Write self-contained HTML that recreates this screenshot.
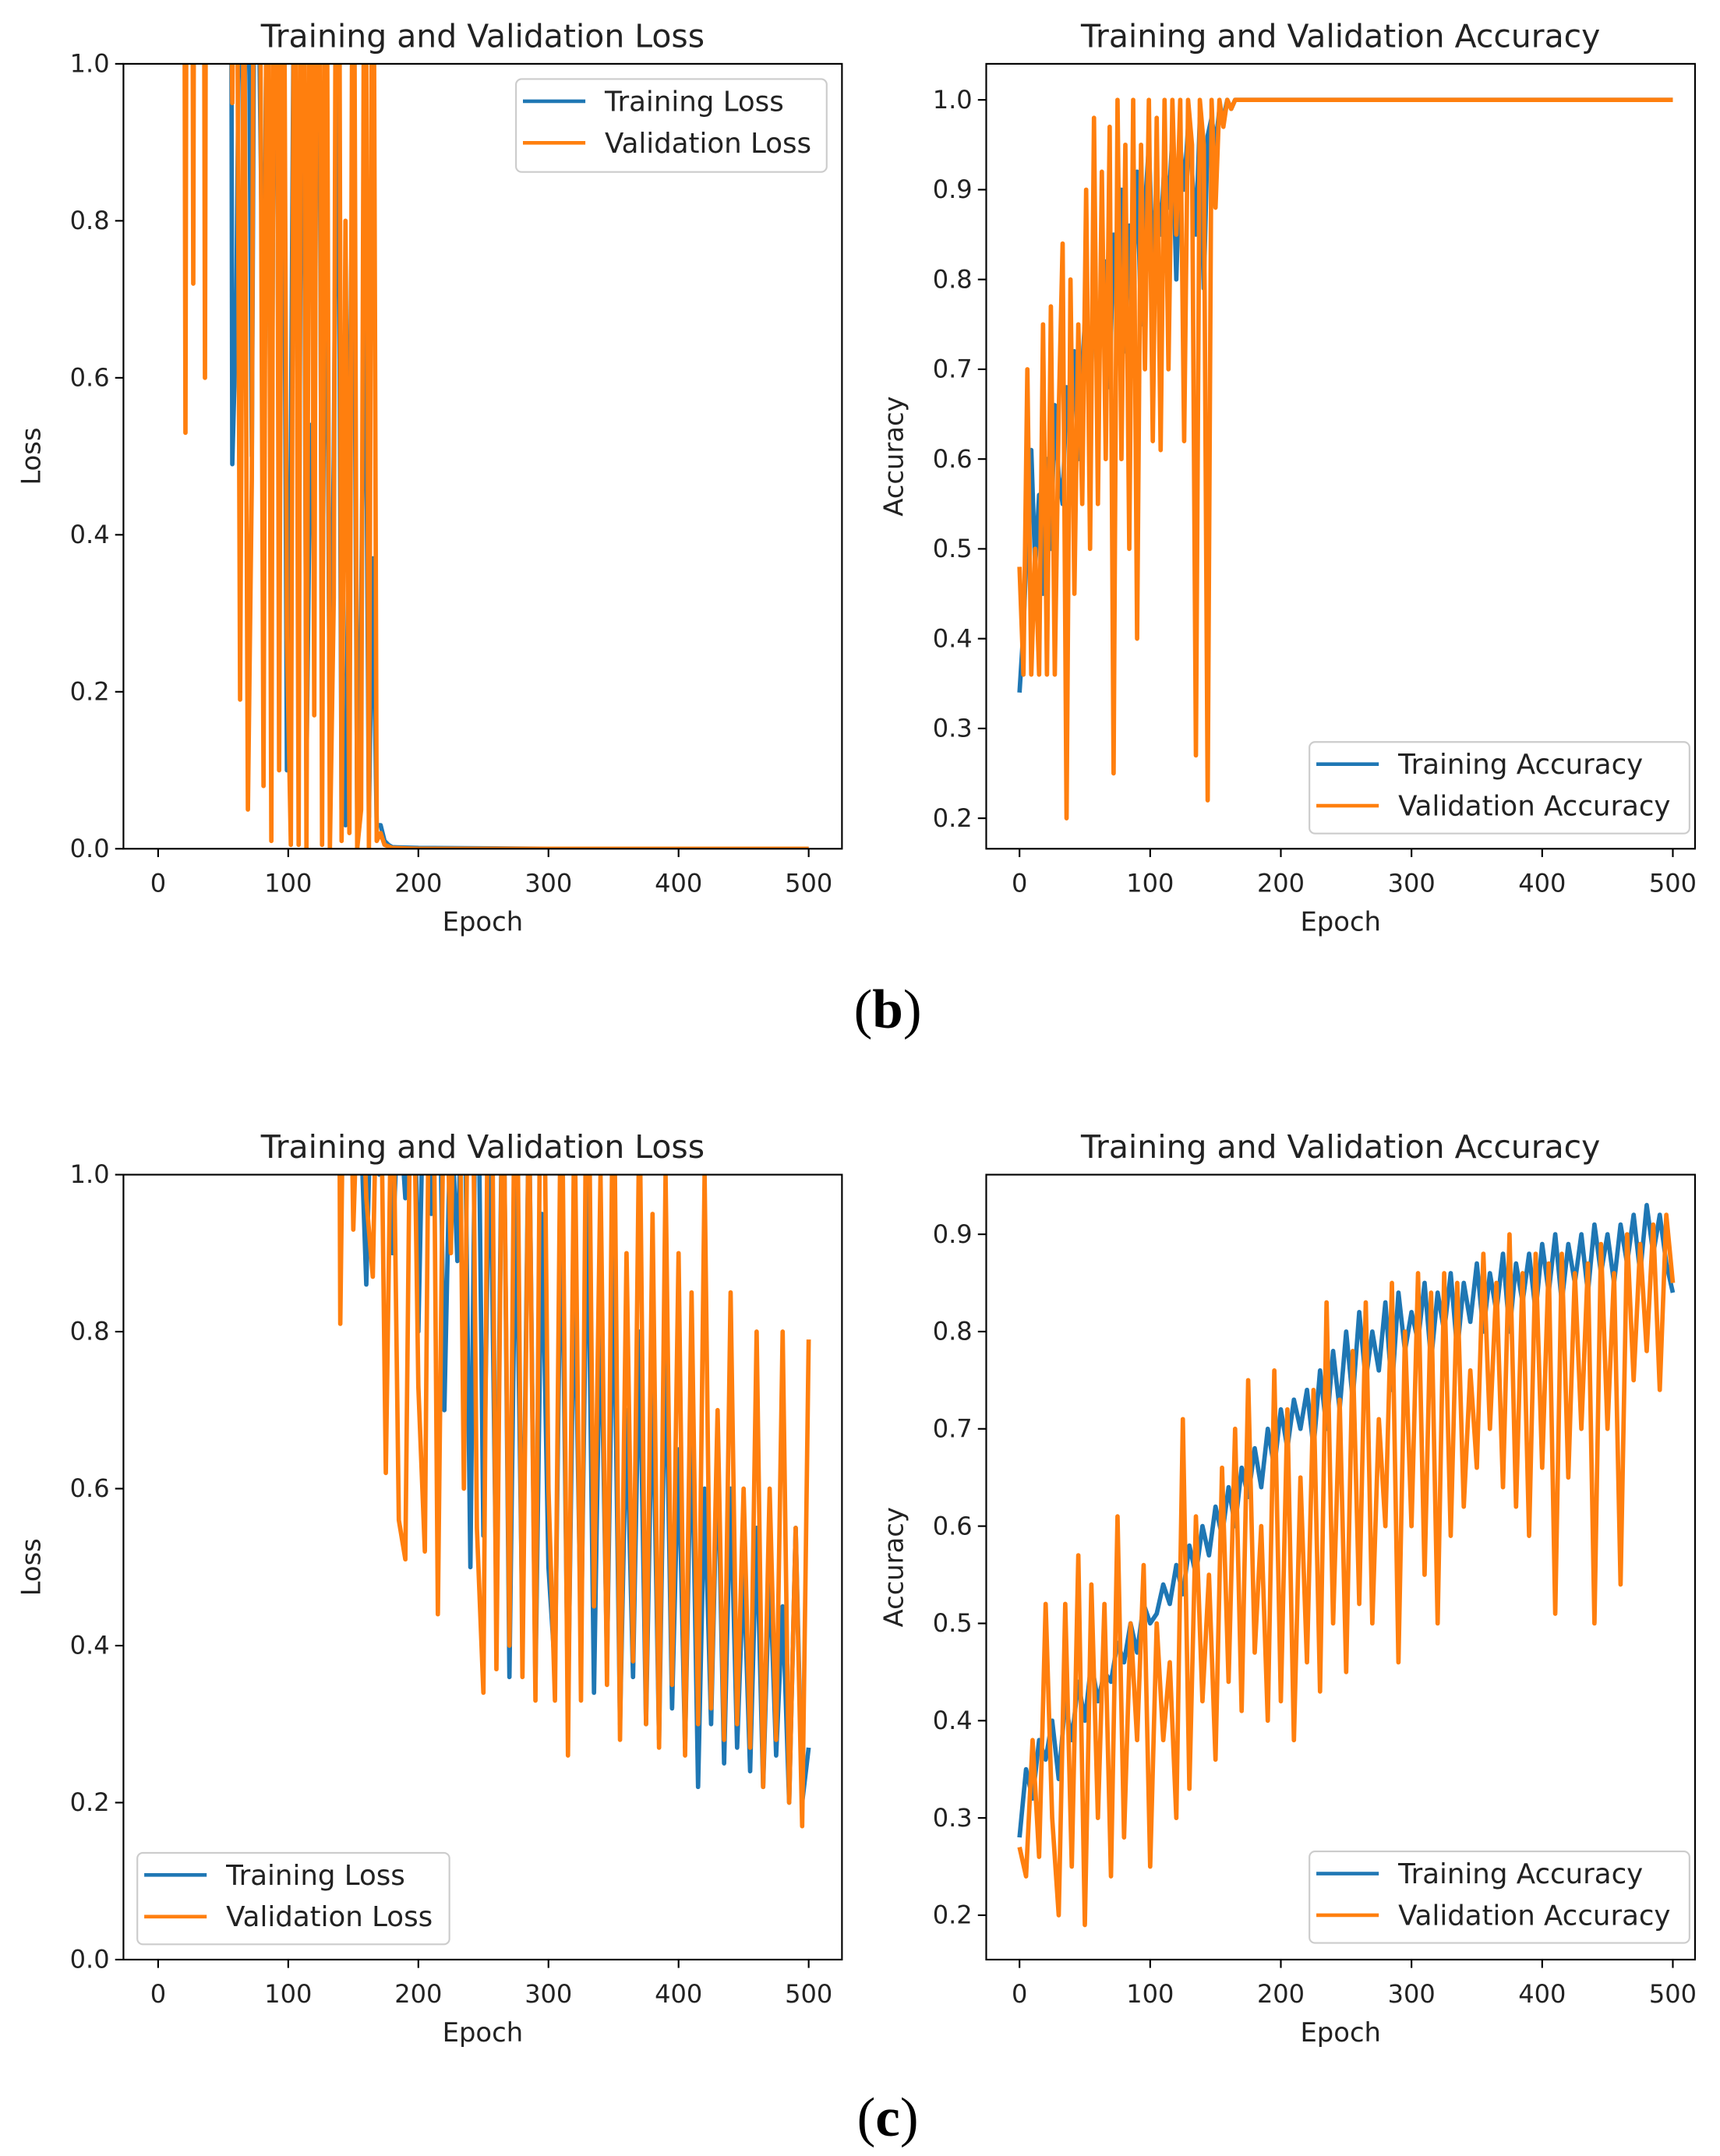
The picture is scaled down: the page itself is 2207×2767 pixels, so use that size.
<!DOCTYPE html>
<html><head><meta charset="utf-8"><style>
html,body{margin:0;padding:0;background:#fff;}
svg{display:block;}
text{font-family:"DejaVu Sans","Liberation Sans",sans-serif;fill:#222;}
</style></head><body>
<svg id="fig" width="2207" height="2767" viewBox="0 0 1240 1554.6" xmlns="http://www.w3.org/2000/svg">
<text x="640" y="741" text-anchor="middle" style="font-family:'Liberation Serif',serif;font-size:40px;fill:#000">(<tspan font-weight="bold">b</tspan>)</text>
<text x="640" y="1540" text-anchor="middle" style="font-family:'Liberation Serif',serif;font-size:40px;fill:#000">(<tspan font-weight="bold">c</tspan>)</text>
</svg>
<script>
// ---- data ----
const xTicks = [0,100,200,300,400,500];
const lossTicks = [0.0,0.2,0.4,0.6,0.8,1.0];
const accTicksB = [0.2,0.3,0.4,0.5,0.6,0.7,0.8,0.9,1.0];
const accTicksC = [0.2,0.3,0.4,0.5,0.6,0.7,0.8,0.9];

const lossBEpochs = [0,3,6,9,12,15,18,21,24,27,30,33,36,39,42,45,48,51,54,57,60,63,66,69,72,75,78,81,84,87,90,93,96,99,102,105,108,111,114,117,120,123,126,129,132,135,138,141,144,147,150,153,156,159,162,165,168,171,174,177,180,200,300,400,500];
const lossBVal = [3,3,3,3,3,3,3,0.53,3,0.72,3,3,0.6,3,3,3,3,3,1.5,0.95,1.5,0.19,1.2,0.05,0.47,2,1.3,0.08,1.5,0.01,2,0.1,1.5,0.27,0.005,1.5,0.005,2,0.0,1.5,0.17,2,0.005,1.5,0.0,0.32,2,0.01,0.8,0.02,1.5,0.0,0.05,1.5,0.0,1.5,0.01,0.02,0.005,0.003,0.001,0,0,0,0];
const lossBTrain = [3,3,3,3,3,3,3,3,3,3,3,3,3,3,3,3,3,3,3,0.49,0.68,1.2,0.9,1.3,0.5,1.5,1.0,0.6,1.2,0.3,1.5,0.4,1.2,0.1,0.5,1.3,0.2,1.5,0.1,0.54,0.44,1.5,0.2,1.0,0.1,0.5,1.2,0.05,0.03,0.5,1.0,0.05,0.3,0.8,0.04,0.37,0.03,0.03,0.01,0.005,0.002,0.001,0,0,0];

const accBEpochs = [0,3,6,9,12,15,18,21,24,27,30,33,36,39,42,45,48,51,54,57,60,63,66,69,72,75,78,81,84,87,90,93,96,99,102,105,108,111,114,117,120,123,126,129,132,135,138,141,144,147,150,153,156,159,162,165,168,171,174,177,180,200,300,400,500];
const accBVal = [0.48,0.36,0.7,0.36,0.5,0.36,0.75,0.36,0.77,0.36,0.65,0.84,0.2,0.8,0.45,0.75,0.55,0.9,0.5,0.98,0.55,0.92,0.6,0.97,0.25,1.0,0.6,0.95,0.5,1.0,0.4,0.95,0.7,1.0,0.62,0.98,0.61,1.0,0.7,1.0,0.85,1.0,0.62,1.0,0.95,0.27,1.0,0.95,0.22,1.0,0.88,1.0,0.97,1.0,0.99,1.0,1.0,1.0,1.0,1.0,1.0,1.0,1.0,1.0,1.0];
const accBTrain = [0.34,0.41,0.52,0.61,0.48,0.56,0.45,0.6,0.5,0.66,0.58,0.55,0.68,0.62,0.72,0.6,0.7,0.78,0.65,0.8,0.72,0.75,0.82,0.68,0.85,0.78,0.9,0.72,0.86,0.8,0.92,0.75,0.88,0.95,0.82,0.9,0.85,0.93,0.88,0.96,0.8,0.95,0.9,0.97,0.92,0.85,0.98,0.79,0.96,0.98,0.95,0.99,0.98,1.0,0.99,1.0,1.0,1.0,1.0,1.0,1.0,1.0,1.0,1.0,1.0];

const epochsC = [0,5,10,15,20,25,30,35,40,45,50,55,60,65,70,75,80,85,90,95,100,105,110,115,120,125,130,135,140,145,150,155,160,165,170,175,180,185,190,195,200,205,210,215,220,225,230,235,240,245,250,255,260,265,270,275,280,285,290,295,300,305,310,315,320,325,330,335,340,345,350,355,360,365,370,375,380,385,390,395,400,405,410,415,420,425,430,435,440,445,450,455,460,465,470,475,480,485,490,495,500];
const lossCVal = [3,3,3,3,3,3,3,3,3,3,3,3,3,3,3,3,3,3,3,3,3,3,3,3,3,3,3,3,0.81,1.5,0.93,1.2,0.97,0.87,1.3,0.62,1.2,0.56,0.51,1.3,0.73,0.52,1.5,0.44,1.2,0.9,1.4,0.6,1.5,0.55,0.34,1.5,0.37,1.2,0.4,1.3,0.36,1.1,0.33,1.4,0.6,0.33,1.2,0.26,1.1,0.33,1.3,0.45,1.0,0.35,1.2,0.28,0.9,0.38,1.1,0.3,0.95,0.27,1.0,0.35,0.9,0.26,0.85,0.3,1.0,0.32,0.7,0.28,0.85,0.3,0.6,0.27,0.8,0.22,0.6,0.28,0.8,0.2,0.55,0.17,0.79];
const lossCTrain = [3,3,3,3,3,3,3,3,3,3,3,3,3,3,3,3,3,3,3,3,3,3,3,3,3,3,3,3,1.5,1.2,1.3,1.1,0.86,1.2,1.0,1.3,0.9,1.1,0.97,1.4,0.8,1.2,0.95,1.3,0.7,1.1,0.89,1.2,0.5,1.3,0.54,1.1,0.45,1.2,0.36,1.0,0.42,1.1,0.35,0.95,0.5,0.37,1.0,0.32,0.9,0.4,1.0,0.34,0.85,0.38,0.9,0.3,0.7,0.36,0.8,0.3,0.75,0.28,0.8,0.32,0.65,0.27,0.7,0.22,0.6,0.3,0.65,0.25,0.6,0.27,0.5,0.24,0.55,0.22,0.5,0.26,0.45,0.2,0.55,0.2,0.27];
const accCVal = [0.27,0.24,0.38,0.26,0.52,0.3,0.2,0.52,0.25,0.57,0.19,0.54,0.3,0.52,0.24,0.61,0.28,0.5,0.38,0.56,0.25,0.5,0.38,0.46,0.3,0.71,0.33,0.61,0.42,0.55,0.36,0.66,0.44,0.7,0.41,0.75,0.47,0.6,0.4,0.76,0.42,0.72,0.38,0.65,0.46,0.74,0.43,0.83,0.5,0.73,0.45,0.78,0.52,0.83,0.5,0.71,0.6,0.85,0.46,0.8,0.6,0.86,0.55,0.84,0.5,0.86,0.59,0.85,0.62,0.76,0.66,0.88,0.7,0.85,0.64,0.9,0.62,0.86,0.59,0.88,0.66,0.87,0.51,0.88,0.65,0.86,0.7,0.87,0.5,0.89,0.7,0.86,0.54,0.9,0.75,0.89,0.78,0.91,0.74,0.92,0.85];
const accCTrain = [0.28,0.35,0.32,0.38,0.36,0.4,0.34,0.42,0.38,0.44,0.4,0.46,0.42,0.45,0.44,0.48,0.46,0.5,0.47,0.52,0.5,0.51,0.54,0.52,0.56,0.53,0.58,0.55,0.6,0.57,0.62,0.59,0.64,0.6,0.66,0.63,0.68,0.64,0.7,0.66,0.72,0.68,0.73,0.7,0.74,0.68,0.76,0.7,0.78,0.72,0.8,0.73,0.82,0.75,0.8,0.76,0.83,0.74,0.84,0.78,0.82,0.79,0.85,0.77,0.84,0.8,0.86,0.78,0.85,0.81,0.87,0.8,0.86,0.82,0.88,0.8,0.87,0.83,0.88,0.82,0.89,0.84,0.9,0.83,0.89,0.85,0.9,0.84,0.91,0.86,0.9,0.85,0.91,0.87,0.92,0.86,0.93,0.88,0.92,0.87,0.84];

// ---- drawing ----
const NS = "http://www.w3.org/2000/svg";
const fig = document.getElementById('fig');
function el(tag, attrs, parent){const e=document.createElementNS(NS,tag);for(const k in attrs)e.setAttribute(k,attrs[k]);(parent||fig).appendChild(e);return e;}
let clipId=0;
function panel(p){
  const g = el('g',{});
  
  
  const X = v => p.x0 + (v - 0) * (p.x500 - p.x0) / 500;
  const Y = v => p.yA + (v - p.vA) * (p.yB - p.yA) / (p.vB - p.vA);
  const t = el('text',{x:(p.L+p.R)/2,y:p.T-12,'text-anchor':'middle','font-size':23},g);
  t.textContent = p.title;
  
  
  const id='c'+(clipId++);
  const cp = el('clipPath',{id:id},g);
  el('rect',{x:p.L,y:p.T,width:p.R-p.L,height:p.B-p.T},cp);
  const series = [[p.e1,p.s1,'#1f77b4','training-line'],[p.e2,p.s2,'#ff7f0e','validation-line']];
  for(const [ep,vals,col,nm] of series){
    const d = vals.map((v,i)=>(i?'L':'M')+X(ep[i]).toFixed(2)+','+Y(v).toFixed(2)).join('');
    const path = el('path',{d:d,fill:'none',stroke:col,'stroke-width':3.2,'stroke-linejoin':'round','clip-path':'url(#'+id+')'},g);
    
    
  }
  const frame = el('rect',{x:p.L,y:p.T,width:p.R-p.L,height:p.B-p.T,fill:'none',stroke:'#000','stroke-width':1.2},g);
  
  
  for(const v of xTicks){
    const x=X(v);
    el('line',{x1:x,x2:x,y1:p.B,y2:p.B+6,stroke:'#000','stroke-width':1.2},g);
    const tx=el('text',{x:x,y:p.B+31,'text-anchor':'middle','font-size':18},g);
    tx.textContent=v;
    
    
  }
  for(const v of p.yt){
    const y=Y(v);
    el('line',{x1:p.L-6,x2:p.L,y1:y,y2:y,stroke:'#000','stroke-width':1.2},g);
    const ty=el('text',{x:p.L-10,y:y+6,'text-anchor':'end','font-size':18},g);
    ty.textContent=v.toFixed(1);
    
    
  }
  const xl=el('text',{x:(p.L+p.R)/2,y:p.B+59,'text-anchor':'middle','font-size':19},g);
  xl.textContent='Epoch';
  
  
  const yc=(p.T+p.B)/2;
  const yl=el('text',{x:p.ylx,y:yc,'text-anchor':'middle','font-size':19,transform:'rotate(-90 '+p.ylx+' '+yc+')'},g);
  yl.textContent=p.ylabel;
  
  
  const lg=el('g',{},g);
  
  
  const [lx,ly,lw,lh]=p.leg;
  el('rect',{x:lx,y:ly,width:lw,height:lh,rx:4,fill:'#fff','fill-opacity':0.85,stroke:'#ccc','stroke-width':1.2},lg);
  p.legText.forEach((s,i)=>{
    const yy=ly+16+i*30;
    el('line',{x1:lx+5,x2:lx+50,y1:yy,y2:yy,stroke:i?'#ff7f0e':'#1f77b4','stroke-width':2.6},lg);
    const lt=el('text',{x:lx+64,y:yy+7,'font-size':20},lg);
    lt.textContent=s;
    
    
  });
}
panel({name:'loss-chart-b',title:'Training and Validation Loss',L:89,R:607,T:46,B:612,x0:114,x500:583,yA:612,vA:0,yB:46,vB:1,yt:lossTicks,ylabel:'Loss',ylx:29,
  e1:lossBEpochs,s1:lossBTrain,e2:lossBEpochs,s2:lossBVal,leg:[372,57,224,67],legText:['Training Loss','Validation Loss']});
panel({name:'accuracy-chart-b',title:'Training and Validation Accuracy',L:711,R:1222,T:46,B:612,x0:735,x500:1206,yA:590,vA:0.2,yB:72,vB:1.0,yt:accTicksB,ylabel:'Accuracy',ylx:651,
  e1:accBEpochs,s1:accBTrain,e2:accBEpochs,s2:accBVal,leg:[944,535,274,66],legText:['Training Accuracy','Validation Accuracy']});
panel({name:'loss-chart-c',title:'Training and Validation Loss',L:89,R:607,T:847,B:1413,x0:114,x500:583,yA:1413,vA:0,yB:847,vB:1,yt:lossTicks,ylabel:'Loss',ylx:29,
  e1:epochsC,s1:lossCTrain,e2:epochsC,s2:lossCVal,leg:[99,1336,225,66],legText:['Training Loss','Validation Loss']});
panel({name:'accuracy-chart-c',title:'Training and Validation Accuracy',L:711,R:1222,T:847,B:1413,x0:735,x500:1206,yA:1381,vA:0.2,yB:890,vB:0.9,yt:accTicksC,ylabel:'Accuracy',ylx:651,
  e1:epochsC,s1:accCTrain,e2:epochsC,s2:accCVal,leg:[944,1335,274,66],legText:['Training Accuracy','Validation Accuracy']});
</script>
</body></html>
